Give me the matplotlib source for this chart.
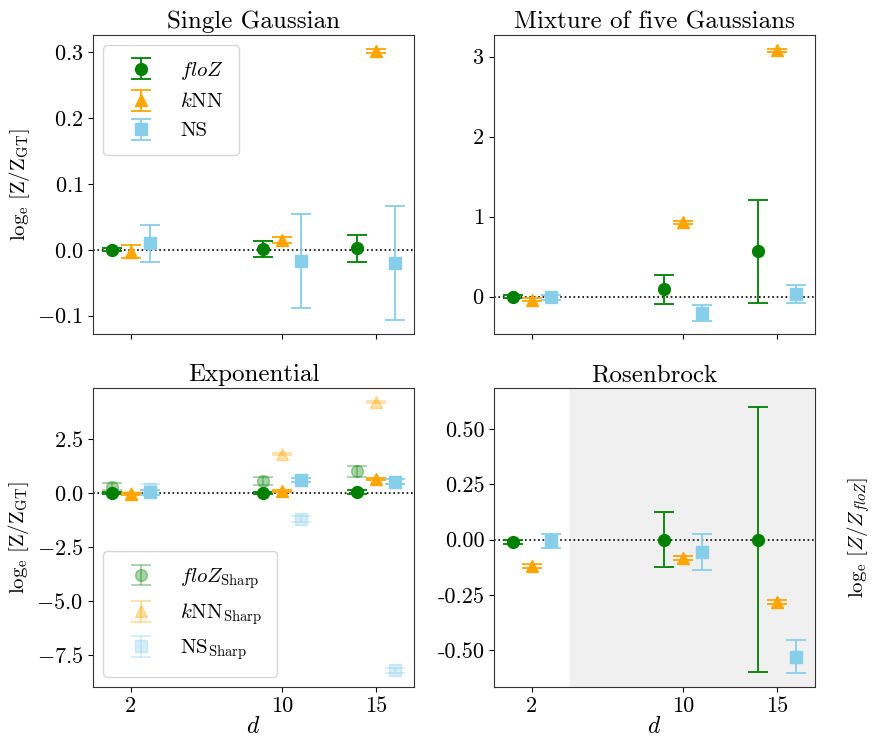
import matplotlib
matplotlib.use('Agg')
import matplotlib.pyplot as plt
import numpy as np

plt.rcParams['font.family'] = 'serif'
plt.rcParams['font.serif'] = ['cmr10', 'DejaVu Serif']
plt.rcParams['mathtext.fontset'] = 'cm'
plt.rcParams['axes.formatter.use_mathtext'] = True
plt.rcParams['axes.unicode_minus'] = True
plt.rcParams['axes.edgecolor'] = '0.2'

# dimensions
dims = np.array([2, 10, 15])
x_ticks = [2, 10, 15]

# Single Gaussian
sg_floz = [0.0, 0.001, 0.002]
sg_floz_err = [0.002, 0.012, 0.020]
sg_knn = [-0.003, 0.015, 0.301]
sg_knn_err = [0.010, 0.005, 0.003]
sg_ns = [0.010, -0.017, -0.020]
sg_ns_err = [0.028, 0.072, 0.087]

# Mixture of five Gaussians
mg_floz = [0.0, 0.09, 0.565]
mg_floz_err = [0.02, 0.18, 0.64]
mg_knn = [-0.04, 0.93, 3.08]
mg_knn_err = [0.02, 0.02, 0.02]
mg_ns = [-0.01, -0.205, 0.035]
mg_ns_err = [0.03, 0.105, 0.11]

# Exponential
ex_floz = [0.0, 0.0, 0.05]
ex_floz_err = [0.05, 0.05, 0.1]
ex_knn = [-0.06, 0.08, 0.63]
ex_knn_err = [0.05, 0.05, 0.05]
ex_ns = [0.02, 0.6, 0.52]
ex_ns_err = [0.1, 0.1, 0.1]
ex_floz_sharp = [0.29, 0.55, 1.0]
ex_floz_sharp_err = [0.15, 0.2, 0.25]
ex_knn_sharp = [0.0, 1.81, 4.2]
ex_knn_sharp_err = [0.05, 0.05, 0.05]
ex_ns_sharp = [0.2, -1.2, -8.19]
ex_ns_sharp_err = [0.2, 0.15, 0.1]

# Rosenbrock
rb_floz = [-0.012, 0.0, 0.0]
rb_floz_err = [0.01, 0.123, 0.599]
rb_knn = [-0.12, -0.084, -0.283]
rb_knn_err = [0.01, 0.008, 0.008]
rb_ns = [-0.006, -0.057, -0.529]
rb_ns_err = [0.032, 0.08, 0.075]

green = 'green'
orange = 'orange'
blue = 'skyblue'
offset = 1.0
ms = 8.5
cs = 7


def draw(ax, floz, floz_err, knn, knn_err, ns, ns_err, alpha=1.0, labels=None):
    labels = labels or [None, None, None]
    ax.errorbar(dims - offset, floz, yerr=floz_err, fmt='o', color=green, ms=ms,
                capsize=cs, elinewidth=1.3, capthick=1.3, alpha=alpha, label=labels[0])
    ax.errorbar(dims, knn, yerr=knn_err, fmt='^', color=orange, ms=ms,
                capsize=cs, elinewidth=1.3, capthick=1.3, alpha=alpha, label=labels[1])
    ax.errorbar(dims + offset, ns, yerr=ns_err, fmt='s', color=blue, ms=ms,
                capsize=cs, elinewidth=1.3, capthick=1.3, alpha=alpha, label=labels[2])


fig, axes = plt.subplots(2, 2, figsize=(8.73, 7.38), dpi=100, sharex=True)
plt.subplots_adjust(left=0.1065, right=0.9336, bottom=0.069, top=0.9526,
                    wspace=0.249, hspace=0.18)
ax1, ax2, ax3, ax4 = axes.ravel()

ylabel = r'$\log_{\rm e}\,[{\rm Z}/{\rm Z}_{\rm GT}]$'

for ax in axes.ravel():
    ax.axhline(0, color='black', ls=':', lw=1.2, zorder=0.5)
    ax.tick_params(labelsize=16)

draw(ax1, sg_floz, sg_floz_err, sg_knn, sg_knn_err, sg_ns, sg_ns_err,
     labels=[r'$floZ$', r'$k$NN', 'NS'])
ax1.set_title('Single Gaussian', fontsize=18, pad=5)
ax1.set_ylabel(ylabel, fontsize=15)
ax1.set_ylim(-0.128, 0.326)
ax1.set_yticks([-0.1, 0.0, 0.1, 0.2, 0.3])
ax1.legend(loc='upper left', fontsize=15, borderpad=0.7, handlelength=2.2,
           labelspacing=0.5)

draw(ax2, mg_floz, mg_floz_err, mg_knn, mg_knn_err, mg_ns, mg_ns_err)
ax2.set_title('Mixture of five Gaussians', fontsize=18, pad=5)
ax2.set_ylim(-0.47, 3.27)
ax2.set_yticks([0, 1, 2, 3])

draw(ax3, ex_floz_sharp, ex_floz_sharp_err, ex_knn_sharp, ex_knn_sharp_err,
     ex_ns_sharp, ex_ns_sharp_err, alpha=0.35,
     labels=[r'$floZ_{\rm Sharp}$', r'$k{\rm NN}_{\rm Sharp}$', r'${\rm NS}_{\rm Sharp}$'])
draw(ax3, ex_floz, ex_floz_err, ex_knn, ex_knn_err, ex_ns, ex_ns_err)
ax3.set_title('Exponential', fontsize=18, pad=5)
ax3.set_ylabel(ylabel, fontsize=15)
ax3.set_ylim(-8.96, 4.84)
ax3.set_yticks([-7.5, -5.0, -2.5, 0.0, 2.5])
ax3.legend(loc='lower left', fontsize=15, borderpad=0.7, handlelength=2.2,
           labelspacing=0.5)

ax4.axvspan(4, 17, color='#f0f0f0', zorder=0)
draw(ax4, rb_floz, rb_floz_err, rb_knn, rb_knn_err, rb_ns, rb_ns_err)
ax4.set_title('Rosenbrock', fontsize=18, pad=5)
ax4.set_ylim(-0.667, 0.685)
ax4.set_yticks([-0.5, -0.25, 0.0, 0.25, 0.5])
ax4.yaxis.set_major_formatter(matplotlib.ticker.FormatStrFormatter('%.2f'))
ax4.yaxis.set_label_position('right')
ax4.set_ylabel(r'$\log_{\rm e}\,[Z/Z_{floZ}]$', fontsize=15, labelpad=22)

ax1.set_xlim(0, 17)
ax1.set_xticks(x_ticks)
for ax in (ax3, ax4):
    ax.set_xticklabels([str(t) for t in x_ticks])
    ax.set_xlabel(r'$d$', fontsize=17, labelpad=0)

fig.savefig('out.png', dpi=100)
